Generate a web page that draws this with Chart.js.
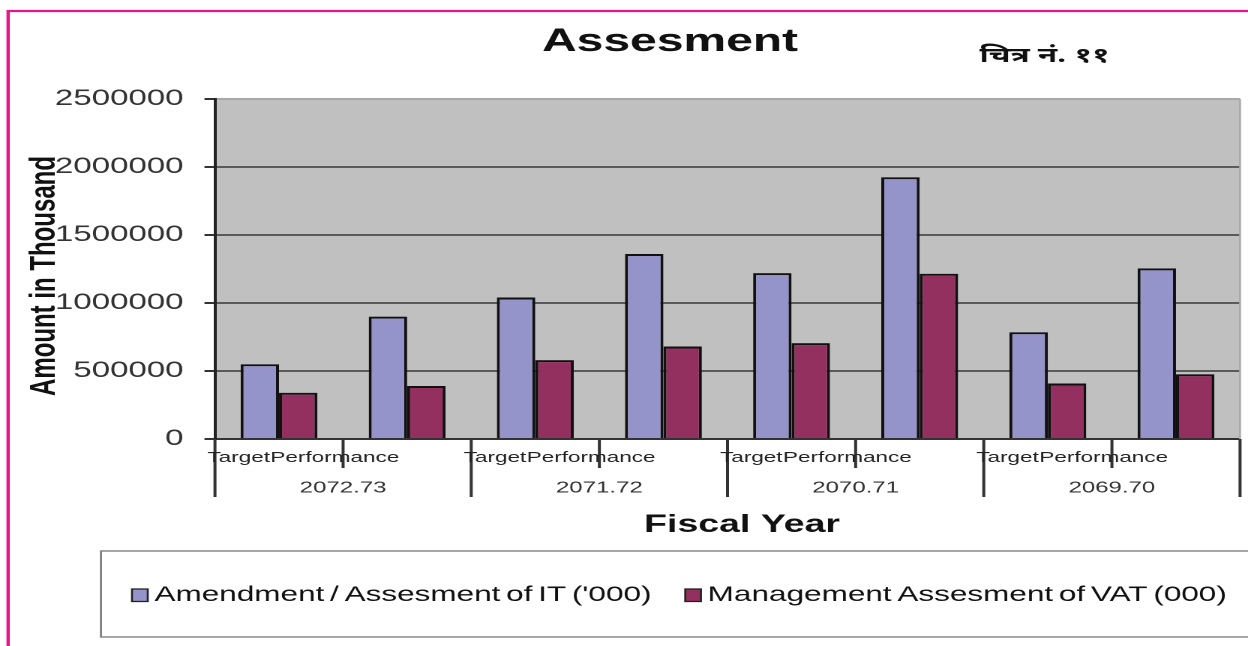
<!DOCTYPE html>
<html>
<head>
<meta charset="utf-8">
<script src="https://cdn.jsdelivr.net/npm/chart.js@4/dist/chart.umd.min.js"></script>
<style>
html,body{margin:0;padding:0;background:#fff;overflow:hidden;width:1248px;height:646px;}
#wrap{position:absolute;left:0;top:0;width:832px;height:646px;transform:scaleX(1.5);transform-origin:0 0;}
canvas{display:block;}
</style>
</head>
<body>
<div id="wrap"><canvas id="c" width="832" height="646"></canvas></div>
<script>
// ---- data ----
const categories = ['Target', 'Performance', 'Target', 'Performance', 'Target', 'Performance', 'Target', 'Performance'];
const fiscalYears = ['2072.73', '2071.72', '2070.71', '2069.70'];
const seriesNames = ["Amendment / Assesment of IT ('000)", 'Management Assesment of VAT (000)'];
const itValues = [550000, 900000, 1040000, 1360000, 1220000, 1925000, 785000, 1255000];
const vatValues = [340000, 390000, 580000, 680000, 705000, 1215000, 408000, 476000];
const yMin = 0, yMax = 2500000, yStep = 500000;
const chartTitle = 'Assesment';
const figureLabel = 'चित्र नं. ११';
const yTitle = 'Amount in Thousand';
const xTitle = 'Fiscal Year';

const SANS = '"Liberation Sans", Arial, sans-serif';

const annotate = {
  id: 'annotate',
  beforeDraw(chart) {
    const { ctx, chartArea: a } = chart;
    ctx.save();
    ctx.fillStyle = '#ffffff';
    ctx.fillRect(0, 0, chart.width, chart.height);
    ctx.fillStyle = '#c0c0c0';
    ctx.fillRect(a.left, a.top, a.right - a.left, a.bottom - a.top);
    ctx.restore();
  },
  afterDraw(chart) {
    const { ctx, chartArea: a } = chart;
    const xs = chart.scales.x;
    ctx.save();
    // right edge of plot
    ctx.strokeStyle = '#a8a8a8';
    ctx.lineWidth = 1.3;
    ctx.beginPath();
    ctx.moveTo(a.right, a.top); ctx.lineTo(a.right, a.bottom);
    ctx.stroke();

    // category boundary ticks
    const n = categories.length;
    const half = (xs.getPixelForValue(1) - xs.getPixelForValue(0)) / 2;
    ctx.strokeStyle = '#333';
    ctx.lineWidth = 2;
    for (let i = 0; i <= n; i++) {
      const x = i < n ? xs.getPixelForValue(i) - half : xs.getPixelForValue(n - 1) + half;
      const long = i % 2 === 0;
      ctx.beginPath();
      ctx.moveTo(x, a.bottom);
      ctx.lineTo(x, a.bottom + (long ? 58 : 29));
      ctx.stroke();
    }
    // category labels
    ctx.fillStyle = '#222';
    ctx.font = '15px ' + SANS;
    ctx.textBaseline = 'middle';
    ctx.textAlign = 'left';
    for (let g = 0; g < fiscalYears.length; g++) {
      const x0 = xs.getPixelForValue(2 * g) - half;
      ctx.fillText(categories[2 * g], x0 - 5, 458);
      ctx.fillText(categories[2 * g + 1], x0 + 37, 458);
    }
    // fiscal year labels
    ctx.fillStyle = '#333';
    ctx.font = '16px ' + SANS;
    ctx.textAlign = 'center';
    for (let g = 0; g < fiscalYears.length; g++) {
      const xc = xs.getPixelForValue(2 * g) + half;
      ctx.fillText(fiscalYears[g], xc, 488);
    }

    // title
    ctx.fillStyle = '#111';
    ctx.textBaseline = 'alphabetic';
    ctx.font = 'bold 32px ' + SANS;
    ctx.textAlign = 'center';
    ctx.fillText(chartTitle, 446.7, 51);
    // figure label
    ctx.font = 'bold 21px "Noto Sans Devanagari", "Lohit Devanagari", "Mukta", "FreeSans", sans-serif';
    ctx.textAlign = 'left';
    ctx.fillText(figureLabel, 653, 62);
    // x title
    ctx.font = 'bold 25px ' + SANS;
    ctx.textAlign = 'center';
    ctx.fillText(xTitle, 494.7, 532);
    // y title
    ctx.save();
    ctx.translate(30, 276);
    ctx.rotate(-Math.PI / 2);
    ctx.font = 'bold 24px ' + SANS;
    ctx.textAlign = 'center';
    ctx.textBaseline = 'middle';
    ctx.fillText(yTitle, 0, 0);
    ctx.restore();

    // legend box
    ctx.strokeStyle = '#808080';
    ctx.lineWidth = 1.4;
    ctx.strokeRect(67.3, 551, 800, 86);
    // legend items
    ctx.font = '21px ' + SANS;
    if ('wordSpacing' in ctx) ctx.wordSpacing = '-2px';
    ctx.textAlign = 'left';
    ctx.textBaseline = 'middle';
    let lx = 88;
    chart.data.datasets.forEach((ds, i) => {
      ctx.fillStyle = ds.backgroundColor;
      ctx.fillRect(lx, 589, 10.5, 12.5);
      ctx.strokeStyle = '#222';
      ctx.lineWidth = 1.3;
      ctx.strokeRect(lx, 589, 10.5, 12.5);
      ctx.fillStyle = '#111';
      ctx.fillText(ds.label, lx + 15, 595);
      lx += 15 + ctx.measureText(ds.label).width + 22.5;
    });
    if ('wordSpacing' in ctx) ctx.wordSpacing = '0px';

    // pink frame
    ctx.strokeStyle = '#e8168a';
    ctx.lineWidth = 2.2;
    ctx.beginPath();
    ctx.moveTo(840, 11);
    ctx.lineTo(5.4, 11);
    ctx.lineTo(5.4, 650);
    ctx.stroke();
    ctx.restore();
  }
};

new Chart(document.getElementById('c'), {
  type: 'bar',
  data: {
    labels: categories,
    datasets: [
      { label: seriesNames[0], data: itValues, backgroundColor: '#9494cb', borderColor: '#111', borderWidth: 2 },
      { label: seriesNames[1], data: vatValues, backgroundColor: '#94305f', borderColor: '#111', borderWidth: 2 }
    ]
  },
  options: {
    responsive: false,
    animation: false,
    devicePixelRatio: 2,
    layout: { padding: { top: 99, right: 5.3, left: 0, bottom: 0 } },
    datasets: { bar: { categoryPercentage: 0.6, barPercentage: 1.0 } },
    plugins: { legend: { display: false }, title: { display: false }, tooltip: { enabled: false } },
    scales: {
      x: {
        type: 'category',
        offset: true,
        grid: { display: false },
        border: { display: true, color: '#333', width: 2 },
        ticks: { display: false },
        afterFit(s) { s.height = 207; }
      },
      y: {
        min: yMin,
        max: yMax,
        ticks: {
          stepSize: yStep,
          color: '#333',
          padding: 14,
          font: { family: SANS, size: 22 },
          callback: v => String(v)
        },
        grid: {
          color: c => (c.tick && c.tick.value === yMax) ? '#a8a8a8' : '#5a5a5a',
          lineWidth: 2,
          tickColor: '#333',
          tickLength: 7
        },
        border: { color: '#222', width: 2 },
        afterFit(s) { s.width = 143.3; }
      }
    }
  },
  plugins: [annotate]
});
</script>
</body>
</html>
